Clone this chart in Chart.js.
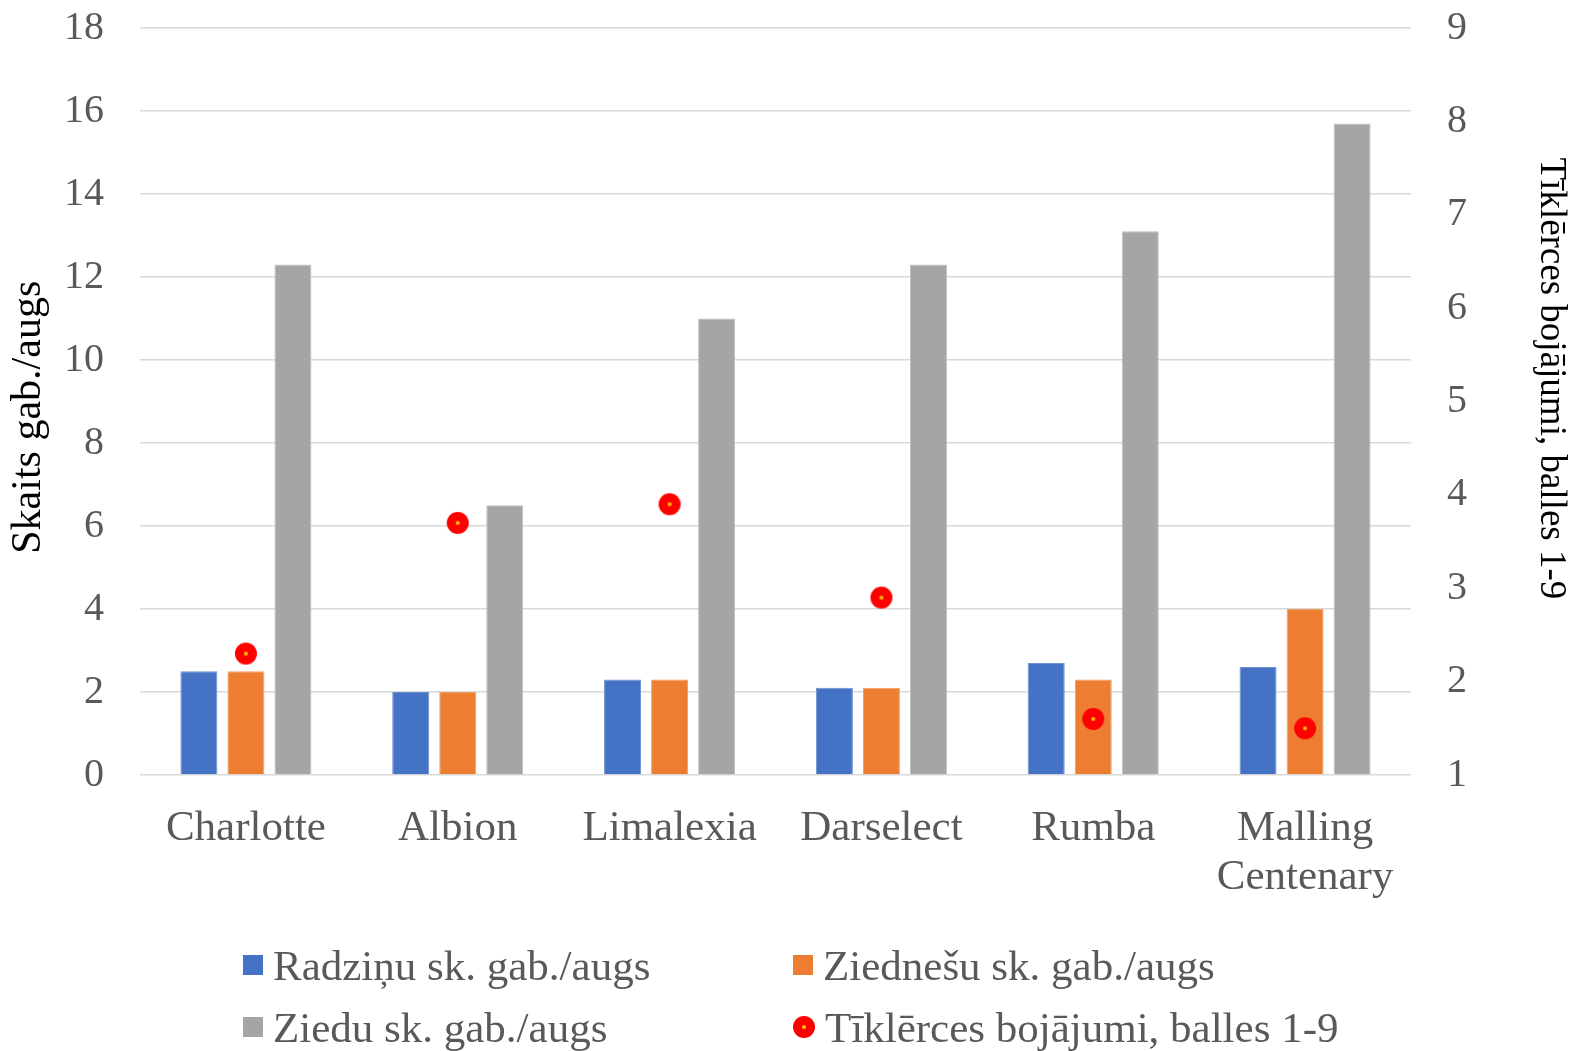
<!DOCTYPE html>
<html>
<head>
<meta charset="utf-8">
<script src="https://cdn.jsdelivr.net/npm/chart.js@4.4.1/dist/chart.umd.min.js"></script>
<style>
  html, body { margin: 0; padding: 0; background: #fff; }
  #wrap { position: relative; width: 1573px; height: 1051px; }
  #legend { position: absolute; left: 243px; top: 934px; display: grid;
    grid-template-columns: 550px 560px; grid-auto-rows: 62px;
    font-family: "Liberation Serif", "Times New Roman", serif; font-size: 43px; color: #595959; }
  .item { display: flex; align-items: center; white-space: nowrap; }
  .mk { width: 20px; height: 20px; margin-right: 10px; flex: none; }
  .mk.pt { width: 22px; height: 22px; border-radius: 50%; background: #ff0000; position: relative; margin-right: 10px; }
  .mk.pt::after { content: ""; position: absolute; left: 9px; top: 9px; width: 4px; height: 4px; border-radius: 50%; background: #ffc000; }
</style>
</head>
<body>
<div id="wrap">
  <canvas id="c" width="1573" height="1051"></canvas>
  <div id="legend"></div>
</div>
<script>
const categories = ['Charlotte', 'Albion', 'Limalexia', 'Darselect', 'Rumba', ['Malling', 'Centenary']];
const radzinu = [2.5, 2.0, 2.3, 2.1, 2.7, 2.6];
const ziednesu = [2.5, 2.0, 2.3, 2.1, 2.3, 4.0];
const ziedu = [12.3, 6.5, 11.0, 12.3, 13.1, 15.7];
const tiklerces = [2.3, 3.7, 3.9, 2.9, 1.6, 1.5];
const seriesNames = ['Radziņu sk. gab./augs', 'Ziednešu sk. gab./augs', 'Ziedu sk. gab./augs', 'Tīklērces bojājumi, balles 1-9'];
const leftTicks = { min: 0, max: 18, step: 2 };
const rightTicks = { min: 1, max: 9, step: 1 };
const leftTitle = 'Skaits gab./augs';
const rightTitle = 'Tīklērces bojājumi, balles 1-9';

const FONT = '"Liberation Serif", "Times New Roman", serif';
const colors = ['#4472c4', '#ed7d31', '#a5a5a5'];
const borders = ['#6e90d0', '#f29c66', '#bdbdbd'];

// point marker image
const pm = document.createElement('canvas');
pm.width = 24; pm.height = 24;
const pctx = pm.getContext('2d');
pctx.fillStyle = '#ff0000';
pctx.beginPath(); pctx.arc(12, 12, 11, 0, Math.PI * 2); pctx.fill();
pctx.fillStyle = '#ffc000';
pctx.beginPath(); pctx.arc(12, 12, 2, 0, Math.PI * 2); pctx.fill();

const barData = [radzinu, ziednesu, ziedu];
const datasets = barData.map((d, i) => ({
  type: 'bar', label: seriesNames[i], data: d, yAxisID: 'y',
  backgroundColor: colors[i], borderColor: borders[i], borderWidth: 1,
  categoryPercentage: 0.666, barPercentage: 0.787, order: 1
}));
datasets.push({
  type: 'line', label: seriesNames[3], data: tiklerces, yAxisID: 'y1',
  showLine: false, pointStyle: pm, pointRadius: 11, pointHoverRadius: 11,
  backgroundColor: '#ff0000', borderColor: '#ff0000', order: 0
});

Chart.defaults.font.family = FONT;

// trailing spaces nudge the title along its axis like in the original
const NB = '\u00a0';
const CLEAR = 'rgba(0,0,0,0)';

new Chart(document.getElementById('c'), {
  data: { labels: categories, datasets },
  options: {
    responsive: false, animation: false,
    layout: { padding: { top: 0, bottom: 151, left: 0, right: 0 } },
    plugins: { legend: { display: false }, tooltip: { enabled: false } },
    scales: {
      x: {
        grid: { display: false }, border: { display: false },
        ticks: { color: '#595959', font: { size: 43, lineHeight: 1.12 }, padding: 22, maxRotation: 0, autoSkip: false },
        afterFit: s => { s.height = 125; }
      },
      y: {
        position: 'left', min: leftTicks.min, max: leftTicks.max,
        ticks: { stepSize: leftTicks.step, color: '#595959', font: { size: 40 }, padding: 4 },
        grid: { color: '#d9d9d9', lineWidth: 1.5, drawTicks: true, tickLength: 32, tickColor: CLEAR },
        border: { display: false },
        title: { display: true, text: leftTitle + NB.repeat(3), color: '#000', font: { size: 42 }, padding: { top: 4, bottom: 0 } },
        afterFit: s => { s.width = 140; }
      },
      y1: {
        position: 'right', min: rightTicks.min, max: rightTicks.max,
        ticks: { stepSize: rightTicks.step, color: '#595959', font: { size: 40 }, padding: 4 },
        grid: { display: true, drawOnChartArea: false, color: CLEAR, drawTicks: true, tickLength: 32, tickColor: CLEAR },
        border: { display: false },
        title: { display: true, text: rightTitle + NB.repeat(5), color: '#000', font: { size: 37 }, padding: { top: 0, bottom: 0 } },
        afterFit: s => { s.width = 162; }
      }
    }
  }
});

// HTML legend from series names
const lg = document.getElementById('legend');
seriesNames.forEach((name, i) => {
  const it = document.createElement('div'); it.className = 'item';
  const mk = document.createElement('span');
  if (i < 3) { mk.className = 'mk'; mk.style.background = colors[i]; }
  else { mk.className = 'mk pt'; }
  const tx = document.createElement('span'); tx.textContent = name;
  it.appendChild(mk); it.appendChild(tx); lg.appendChild(it);
});
</script>
</body>
</html>
